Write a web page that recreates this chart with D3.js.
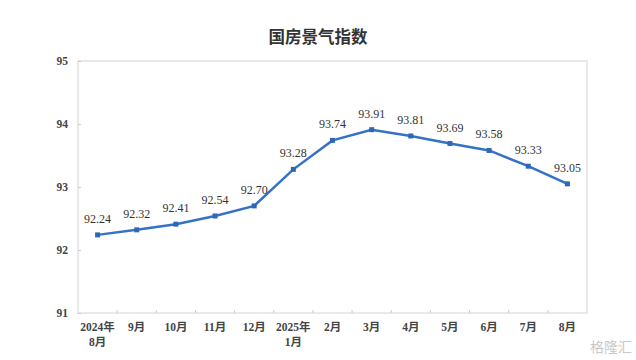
<!DOCTYPE html>
<html><head><meta charset="utf-8">
<script src="https://cdn.jsdelivr.net/npm/d3@7"></script>
<style>body{margin:0;background:#fff}svg{display:block}
.serif{font-family:"Liberation Serif","DejaVu Serif","Noto Sans CJK SC",serif}</style>
</head><body>
<script>
const categories = ["2024年\n8月","9月","10月","11月","12月","2025年\n1月","2月","3月","4月","5月","6月","7月","8月"];
const values = [92.24,92.32,92.41,92.54,92.70,93.28,93.74,93.91,93.81,93.69,93.58,93.33,93.05];
const yTicks = [91,92,93,94,95];

const W=636,H=360;
const m={left:78,right:587,top:61,bottom:313};
const svg=d3.select("body").append("svg").attr("width",W).attr("height",H);
const x=d3.scaleBand().domain(d3.range(categories.length)).range([m.left,m.right]);
const y=d3.scaleLinear().domain([91,95]).range([m.bottom,m.top]);

svg.append("text").attr("x",318).attr("y",43).attr("text-anchor","middle")
  .style("font-family","'Noto Sans CJK SC',sans-serif").attr("font-weight","bold")
  .attr("font-size",16.5).attr("fill","#333").text("国房景气指数");

// frame
svg.append("rect").attr("x",m.left).attr("y",m.top).attr("width",m.right-m.left).attr("height",m.bottom-m.top)
  .attr("fill","none").attr("stroke","#d4d4d4").attr("stroke-width",1);

// y axis
const ya=svg.append("g").attr("transform",`translate(${m.left},0)`)
  .call(d3.axisRight(y).tickValues(yTicks).tickSize(3).tickFormat(d3.format("d")));
ya.select(".domain").remove();
ya.selectAll("line").attr("stroke","#ccc");
ya.selectAll("text").attr("x",-10).attr("text-anchor","end").attr("class","serif")
  .attr("font-family",null).attr("font-size",11.5).attr("font-weight","bold").attr("fill","#444");

// x ticks at band boundaries
const bounds=d3.range(1,categories.length);
svg.append("g").selectAll("line").data(bounds).join("line")
  .attr("x1",i=>x(i)).attr("x2",i=>x(i)).attr("y1",m.bottom).attr("y2",m.bottom-3)
  .attr("stroke","#ccc");

// x labels
const xl=svg.append("g").selectAll("text").data(categories).join("text")
  .attr("class","serif")
  .attr("x",(d,i)=>x(i)+x.bandwidth()/2).attr("y",331).attr("text-anchor","middle")
  .attr("font-size",11.5).attr("font-weight","bold").attr("fill","#444");
xl.each(function(d){
  const parts=d.split("\n");
  d3.select(this).selectAll("tspan").data(parts).join("tspan")
    .attr("x",d3.select(this).attr("x")).attr("dy",(p,j)=>j?15:0).text(p=>p);
});

const cx=i=>x(i)+x.bandwidth()/2;
svg.append("path").datum(values)
  .attr("d",d3.line().x((d,i)=>cx(i)).y(d=>y(d)))
  .attr("fill","none").attr("stroke","#3572C6").attr("stroke-width",2.5);
svg.append("g").selectAll("rect").data(values).join("rect")
  .attr("x",(d,i)=>cx(i)-2.5).attr("y",d=>y(d)-2.5).attr("width",5).attr("height",5).attr("fill","#2F67B8");
svg.append("g").selectAll("text").data(values).join("text")
  .attr("class","serif")
  .attr("x",(d,i)=>cx(i)).attr("y",d=>y(d)-12).attr("text-anchor","middle")
  .attr("font-size",12).attr("fill","#333").text(d=>d.toFixed(2));

// watermark
svg.append("text").attr("x",632).attr("y",352).attr("text-anchor","end")
  .style("font-family","'Noto Sans CJK SC',sans-serif").attr("font-size",14)
  .attr("fill","#c8c8c8").text("格隆汇");
</script>
</body></html>
